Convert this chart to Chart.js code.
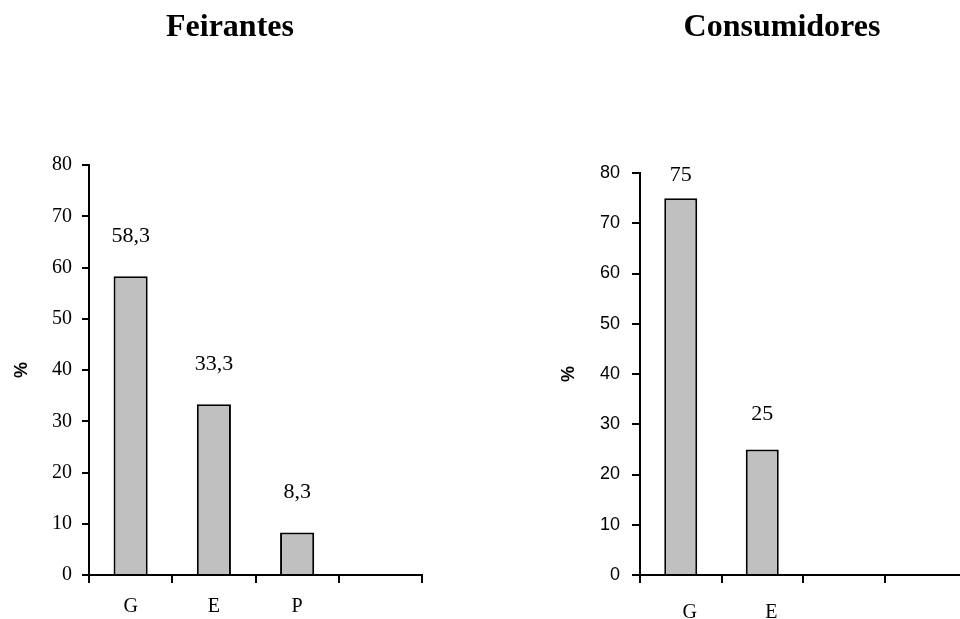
<!DOCTYPE html>
<html>
<head>
    <title>Feirantes e Consumidores</title>
    <style>
        body {
            margin: 0;
            padding: 0;
            width: 960px;
            height: 619px;
            overflow: hidden;
            background-color: #ffffff;
            position: relative;
        }
        canvas {
            position: absolute;
            top: 0;
        }
        #feirantesChart { left: 0; }
        #consumidoresChart { left: 480px; }
    </style>
    <script src="https://cdn.jsdelivr.net/npm/chart.js"></script>
    <script>
        // dados
        const feirantesLabels = ['G', 'E', 'P', ''];
        const feirantesValues = [58.3, 33.3, 8.3, null];
        const consumidoresLabels = ['G', 'E', '', ''];
        const consumidoresValues = [75, 25, null, null];
        const yTicks = [0, 10, 20, 30, 40, 50, 60, 70, 80];

        const SERIF = "'Liberation Serif', 'Times New Roman', serif";
        const SANS = "'Liberation Sans', Arial, sans-serif";

        // rotulos de valor acima das barras (virgula decimal)
        const valueLabels = {
            id: 'valueLabels',
            afterDatasetsDraw(chart, args, opts) {
                const ctx = chart.ctx;
                const meta = chart.getDatasetMeta(0);
                const values = chart.data.datasets[0].data;
                ctx.save();
                ctx.font = opts.size + 'px ' + SERIF;
                ctx.fillStyle = '#000';
                ctx.textAlign = 'center';
                ctx.textBaseline = 'middle';
                meta.data.forEach((bar, i) => {
                    if (values[i] == null) return;
                    let y = Math.max(bar.y - opts.offset, chart.chartArea.top + 2);
                    ctx.fillText(String(values[i]).replace('.', ','), bar.x, y);
                });
                ctx.restore();
            }
        };

        function makeChart(id, title, labels, values, cfg) {
            return new Chart(document.getElementById(id), {
                type: 'bar',
                data: {
                    labels: labels,
                    datasets: [{
                        data: values,
                        backgroundColor: '#c0c0c0',
                        borderColor: '#000000',
                        borderWidth: 2,
                        categoryPercentage: 1,
                        barPercentage: cfg.barPct
                    }]
                },
                options: {
                    responsive: false,
                    animation: false,
                    layout: { padding: { left: cfg.padLeft, right: cfg.padRight, top: 0, bottom: 0 } },
                    plugins: {
                        legend: { display: false },
                        tooltip: { enabled: false },
                        title: {
                            display: true,
                            text: title,
                            color: '#000',
                            font: { family: SERIF, size: 32, weight: 'bold', lineHeight: 1.2 },
                            padding: { top: 9, bottom: cfg.titleBottom }
                        },
                        valueLabels: { size: 22, offset: cfg.labelOffset }
                    },
                    scales: {
                        x: {
                            afterFit: s => { s.height = 44; },
                            grid: { drawOnChartArea: false, color: '#000', lineWidth: 2, tickLength: 8 },
                            border: { color: '#000', width: 2 },
                            ticks: {
                                color: '#000',
                                font: { family: SERIF, size: 20 },
                                padding: cfg.xPad,
                                labelOffset: cfg.xLabelOffset
                            }
                        },
                        y: {
                            min: 0,
                            max: 80,
                            afterFit: s => { s.width = cfg.yWidth; },
                            afterBuildTicks: s => { s.ticks = yTicks.map(v => ({ value: v })); },
                            grid: { drawOnChartArea: false, color: '#000', lineWidth: 2, tickLength: cfg.yTickLen },
                            border: { color: '#000', width: 2 },
                            ticks: {
                                color: '#000',
                                font: { family: cfg.yFont, size: cfg.yFontSize },
                                padding: cfg.yPad
                            },
                            title: {
                                display: true,
                                text: '%',
                                color: '#000',
                                font: { family: SANS, size: 18, weight: 'bold', lineHeight: 1.2 },
                                padding: { top: cfg.pctPad, bottom: 0 }
                            }
                        }
                    }
                },
                plugins: [valueLabels]
            });
        }

        document.addEventListener('DOMContentLoaded', function() {
            makeChart('feirantesChart', 'Feirantes', feirantesLabels, feirantesValues, {
                barPct: 0.41, padLeft: 38, padRight: 58, titleBottom: 117.6, labelOffset: 40,
                xPad: 11.4, xLabelOffset: 0, yWidth: 51, yFont: SERIF, yFontSize: 20,
                yTickLen: 7, yPad: 10, pctPad: -26.8
            });
            makeChart('consumidoresChart', 'Consumidores', consumidoresLabels, consumidoresValues, {
                barPct: 0.405, padLeft: 118, padRight: 14, titleBottom: 125.6, labelOffset: 35,
                xPad: 17.4, xLabelOffset: 9, yWidth: 42, yFont: SANS, yFontSize: 18,
                yTickLen: 8, yPad: 12, pctPad: -39.8
            });
        });
    </script>
</head>
<body>
    <canvas id="feirantesChart" width="480" height="619"></canvas>
    <canvas id="consumidoresChart" width="500" height="619"></canvas>
</body>
</html>
